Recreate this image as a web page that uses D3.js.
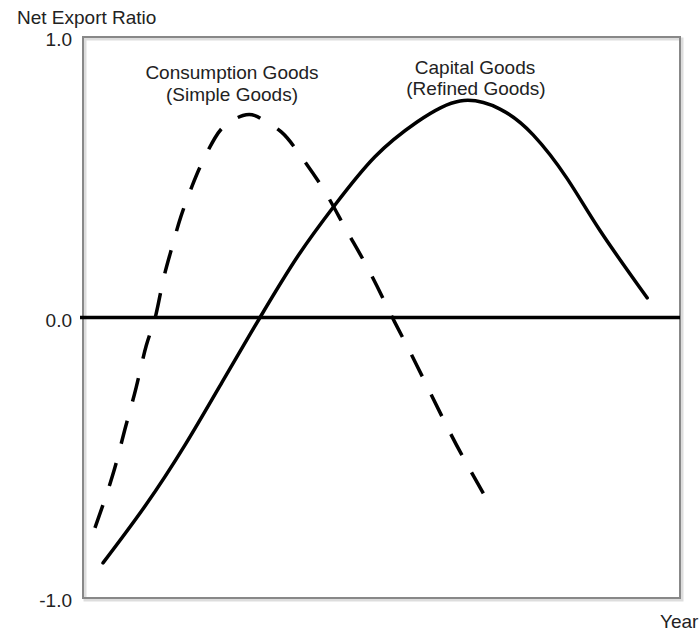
<!DOCTYPE html>
<html>
<head>
<meta charset="utf-8">
<script src="https://cdn.jsdelivr.net/npm/d3@7/dist/d3.min.js"></script>
<style>
  body { margin: 0; background: #fff; }
  text { font-family: "Liberation Sans", Arial, Helvetica, sans-serif; }
</style>
</head>
<body>
<div id="canvas"></div>
<script>
// year position (0-100) and net export ratio
const consumptionYear = [2.0, 5.0, 7.0, 8.9, 10.6, 12.1, 13.4, 14.9, 16.4, 18.3, 19.9, 22.1, 24.1, 26.8, 28.8, 30.5, 33.3, 36.0, 40.2, 43.9, 47.6, 50.9, 52.3, 55.9, 61.0, 64.5, 68.2];
const consumptionValue = [-0.75, -0.56, -0.40, -0.25, -0.10, 0.0, 0.13, 0.25, 0.36, 0.47, 0.55, 0.64, 0.69, 0.72, 0.72, 0.70, 0.66, 0.59, 0.46, 0.32, 0.18, 0.04, -0.02, -0.17, -0.39, -0.53, -0.67];

const capitalYear = [3.35, 10.4, 17.1, 23.3, 29.65, 36.0, 42.2, 48.9, 55.95, 63.15, 69.85, 75.4, 81.1, 86.6, 94.5];
const capitalValue = [-0.875, -0.672, -0.454, -0.23, 0.0, 0.219, 0.401, 0.573, 0.697, 0.772, 0.743, 0.651, 0.495, 0.31, 0.07];

const yTicks = [-1, 0, 1];

const width = 700;
const height = 631;
const margin = { top: 37, left: 83, bottom: 33, right: 20 };
const iwidth = width - margin.left - margin.right;
const iheight = height - margin.top - margin.bottom;

const svg = d3.select("#canvas").append("svg")
  .attr("width", width)
  .attr("height", height);

const g = svg.append("g")
  .attr("transform", `translate(${margin.left},${margin.top})`);

const x = d3.scaleLinear().domain([0, 100]).range([0, iwidth]);
const y = d3.scaleLinear().domain([-1, 1]).range([iheight, 0]);

// frame with a soft shadow
g.append("rect")
  .attr("x", 2).attr("y", 2)
  .attr("width", iwidth).attr("height", iheight)
  .attr("fill", "none")
  .attr("stroke", "#ddd")
  .attr("stroke-width", 3);
g.append("rect")
  .attr("width", iwidth).attr("height", iheight)
  .attr("fill", "none")
  .attr("stroke", "#888")
  .attr("stroke-width", 2);

// y axis labels (plain hyphen for the minus sign)
const yAxis = g.append("g")
  .call(d3.axisLeft(y).tickValues(yTicks).tickSize(0).tickPadding(11)
    .tickFormat((d) => d.toFixed(1)));
yAxis.select(".domain").remove();
yAxis.selectAll("text")
  .attr("font-size", 19)
  .attr("fill", "#222")
  .attr("dy", "0.47em");

// zero line
g.append("line")
  .attr("x1", -3).attr("x2", iwidth)
  .attr("y1", y(0)).attr("y2", y(0))
  .attr("stroke", "#000")
  .attr("stroke-width", 3.5);

const line = d3.line()
  .x((d) => x(d[0]))
  .y((d) => y(d[1]))
  .curve(d3.curveNatural);

g.append("path")
  .datum(consumptionYear.map((d, i) => [d, consumptionValue[i]]))
  .attr("d", line)
  .attr("fill", "none")
  .attr("stroke", "#000")
  .attr("stroke-width", 3.5)
  .attr("stroke-dasharray", "24,20");

g.append("path")
  .datum(capitalYear.map((d, i) => [d, capitalValue[i]]))
  .attr("d", line)
  .attr("fill", "none")
  .attr("stroke", "#000")
  .attr("stroke-width", 3.5)
  .attr("stroke-linecap", "round");

// titles and curve labels
const label = (txt, px, py, anchor) =>
  svg.append("text")
    .attr("x", px).attr("y", py)
    .attr("text-anchor", anchor)
    .attr("font-size", 19)
    .attr("fill", "#222")
    .text(txt);

label("Net Export Ratio", 17, 24, "start");
label("Year", 660, 628, "start");
label("Consumption Goods", 232, 79, "middle");
label("(Simple Goods)", 232, 101, "middle");
label("Capital Goods", 475, 74, "middle");
label("(Refined Goods)", 476, 95, "middle");
</script>
</body>
</html>
